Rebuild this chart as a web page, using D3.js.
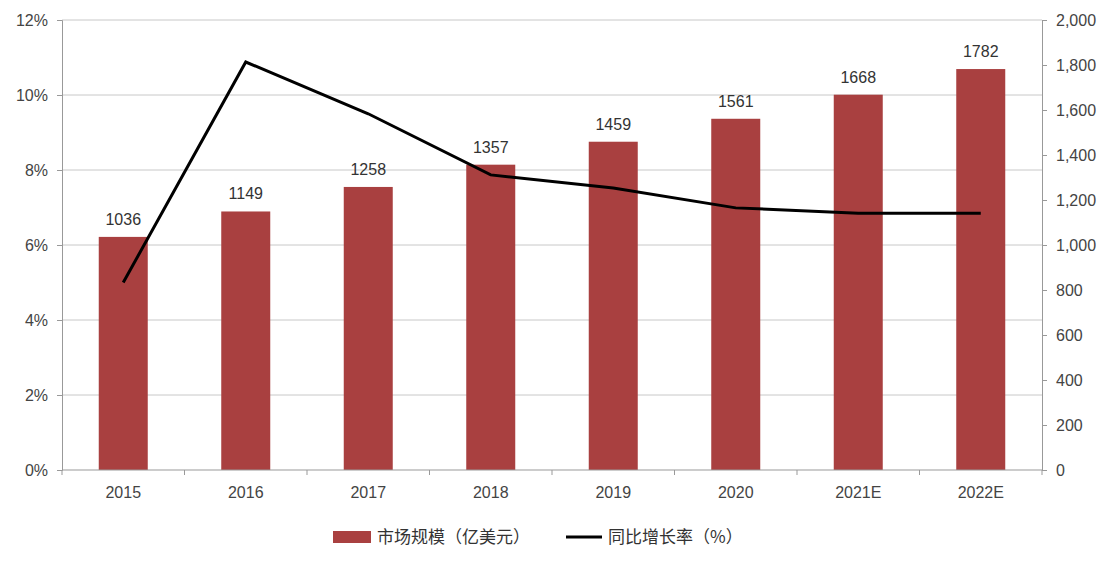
<!DOCTYPE html>
<html>
<head>
<meta charset="utf-8">
<script src="https://cdn.jsdelivr.net/npm/d3@7"></script>
<style>
body { margin: 0; background: #fff; }
text { font-family: "Liberation Sans", Arial, sans-serif; }
</style>
</head>
<body>
<svg width="1108" height="562"></svg>
<script>
var years = ["2015", "2016", "2017", "2018", "2019", "2020", "2021E", "2022E"];
var marketSize = [1036, 1149, 1258, 1357, 1459, 1561, 1668, 1782];
var growthRate = [5.0, 10.88, 9.5, 7.87, 7.52, 6.99, 6.85, 6.85];
var leftTicks = [0, 2, 4, 6, 8, 10, 12];
var rightTicks = [0, 200, 400, 600, 800, 1000, 1200, 1400, 1600, 1800, 2000];

var svg = d3.select("svg");
var plotLeft = 62, plotRight = 1042, plotTop = 20, plotBottom = 470;

var xScale = d3.scaleBand().domain(years).range([plotLeft, plotRight]).paddingInner(0.6).paddingOuter(0.3);
var xPoint = function(d) { return xScale(d) + xScale.bandwidth() / 2; };
var yLeft = d3.scaleLinear().domain([0, 12]).range([plotBottom, plotTop]);
var yRight = d3.scaleLinear().domain([0, 2000]).range([plotBottom, plotTop]);

// gridlines
svg.selectAll(".grid").data(leftTicks.slice(1)).enter().append("line")
    .attr("x1", plotLeft).attr("x2", plotRight)
    .attr("y1", function(d) { return yLeft(d); })
    .attr("y2", function(d) { return yLeft(d); })
    .attr("stroke", "#c8c8c8").attr("stroke-width", 1);

// bars
svg.selectAll(".bar").data(marketSize).enter().append("rect")
    .attr("x", function(d, i) { return xScale(years[i]); })
    .attr("y", function(d) { return yRight(d); })
    .attr("width", xScale.bandwidth())
    .attr("height", function(d) { return plotBottom - yRight(d); })
    .attr("fill", "#a94040");

svg.selectAll(".blabel").data(marketSize).enter().append("text")
    .attr("x", function(d, i) { return xPoint(years[i]); })
    .attr("y", function(d) { return yRight(d) - 12; })
    .attr("text-anchor", "middle")
    .attr("font-size", 16).attr("fill", "#333")
    .text(function(d) { return d; });

// line
var line = d3.line()
    .x(function(d, i) { return xPoint(years[i]); })
    .y(function(d) { return yLeft(d); });
svg.append("path").datum(growthRate)
    .attr("d", line).attr("fill", "none")
    .attr("stroke", "#000").attr("stroke-width", 3);

// axes
var axL = svg.append("g").attr("transform", "translate(" + plotLeft + ",0)")
    .call(d3.axisLeft(yLeft).tickValues(leftTicks).tickFormat(function(d) { return d + "%"; }).tickSize(5));
var axR = svg.append("g").attr("transform", "translate(" + plotRight + ",0)")
    .call(d3.axisRight(yRight).tickValues(rightTicks).tickSize(5));
var axB = svg.append("g").attr("transform", "translate(0," + plotBottom + ")")
    .call(d3.axisBottom(xScale).tickSize(0).tickPadding(17));
axB.select(".domain").attr("d", "M" + plotLeft + ",0H" + plotRight);
[axL, axR, axB].forEach(function(a) {
    a.selectAll("path, line").attr("stroke", "#999");
    a.selectAll("text").attr("font-size", 16).attr("fill", "#444")
        .style("font-family", "Liberation Sans, Arial, sans-serif");
});
axL.selectAll("text").attr("dx", -6);
axR.selectAll("text").attr("dx", 6);
// category separator ticks
svg.selectAll(".sep").data(d3.range(years.length + 1)).enter().append("line")
    .attr("x1", function(i) { return plotLeft + i * (plotRight - plotLeft) / years.length; })
    .attr("x2", function(i) { return plotLeft + i * (plotRight - plotLeft) / years.length; })
    .attr("y1", plotBottom).attr("y2", plotBottom + 5).attr("stroke", "#999");

// legend
var lg = svg.append("g").attr("transform", "translate(0,537)");
lg.append("rect").attr("x", 333).attr("y", -6).attr("width", 38).attr("height", 12).attr("fill", "#a94040");
lg.append("text").attr("x", 377).attr("y", 6).attr("font-size", 17).attr("fill", "#333")
    .style("font-family", "Noto Sans CJK SC").text("市场规模（亿美元）");
lg.append("line").attr("x1", 566).attr("x2", 602).attr("y1", 0).attr("y2", 0)
    .attr("stroke", "#000").attr("stroke-width", 3);
lg.append("text").attr("x", 608).attr("y", 6).attr("font-size", 17).attr("fill", "#333")
    .style("font-family", "Noto Sans CJK SC").text("同比增长率（%）");
</script>
</body>
</html>
